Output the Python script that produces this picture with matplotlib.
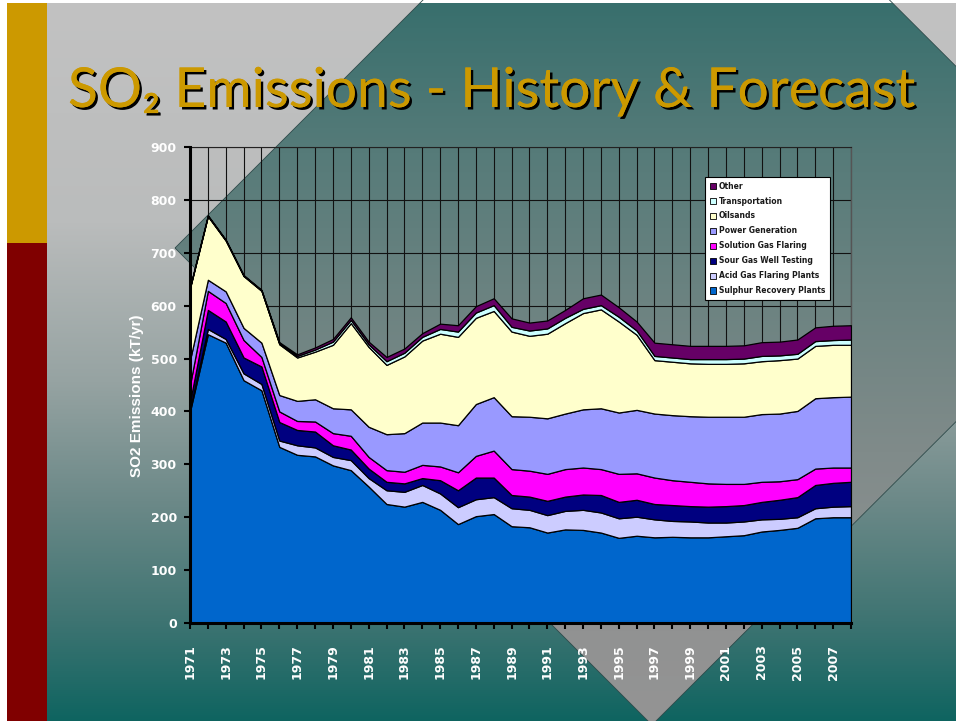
import numpy as np
import matplotlib
matplotlib.use("Agg")
import matplotlib.pyplot as plt
from matplotlib.patches import Polygon, Rectangle, Patch
from matplotlib import patheffects as pe
from matplotlib import font_manager as fm

# ---------------------------------------------------------------- data (kT/yr)
years = list(range(1971, 2009))

sulphur_recovery = [400, 546, 530, 459, 440, 333, 318, 315, 298, 289,
                    258, 225, 220, 229, 214, 187, 202, 206, 183, 181,
                    171, 177, 176, 171, 161, 165, 162, 163, 162, 162,
                    164, 166, 173, 176, 180, 198, 200, 200]
acid_gas_flaring = [5, 10, 7, 13, 12, 12, 18, 17, 16, 19,
                    16, 26, 28, 32, 31, 32, 32, 32, 34, 33,
                    33, 35, 38, 38, 37, 36, 34, 30, 30, 28,
                    26, 26, 23, 21, 20, 19, 20, 21]
sour_gas_testing = [13, 36, 33, 30, 33, 35, 29, 30, 22, 20,
                    18, 16, 16, 13, 25, 32, 41, 37, 25, 25,
                    27, 27, 29, 33, 31, 32, 29, 30, 29, 30,
                    31, 31, 33, 36, 38, 44, 45, 46]
solution_gas_flaring = [32, 36, 35, 33, 18, 20, 17, 19, 23, 26,
                        22, 22, 22, 25, 26, 34, 41, 51, 49, 49,
                        51, 52, 51, 49, 53, 50, 50, 47, 46, 44,
                        42, 40, 38, 35, 34, 31, 29, 27]
power_generation = [47, 21, 22, 23, 27, 31, 38, 42, 47, 50,
                    57, 68, 73, 80, 83, 89, 98, 101, 100, 102,
                    105, 105, 110, 115, 116, 120, 121, 123, 124, 126,
                    127, 127, 128, 128, 129, 133, 133, 134]
oilsands = [136, 120, 96, 98, 98, 96, 82, 90, 120, 163,
            151, 131, 145, 155, 168, 167, 163, 163, 160, 153,
            160, 171, 182, 187, 172, 142, 101, 101, 100, 100,
            100, 101, 100, 101, 99, 99, 99, 98]
transportation = [1, 1, 1, 1, 1, 2, 3, 4, 6, 6,
                  5, 7, 7, 7, 9, 10, 10, 11, 9, 10,
                  10, 10, 8, 8, 9, 8, 8, 8, 8, 9,
                  9, 9, 10, 9, 9, 9, 9, 10]
other = [1, 1, 1, 1, 1, 2, 3, 4, 5, 5,
         5, 8, 8, 7, 10, 12, 12, 13, 16, 15,
         15, 15, 20, 20, 18, 17, 25, 25, 25, 25,
         25, 25, 26, 26, 27, 26, 27, 27]

series_names = ["Sulphur Recovery Plants", "Acid Gas Flaring Plants",
                "Sour Gas Well Testing", "Solution Gas Flaring",
                "Power Generation", "Oilsands", "Transportation", "Other"]
series_colors = ["#0066CC", "#CCCCFF", "#000080", "#FF00FF",
                 "#9999FF", "#FFFFCC", "#CCFFFF", "#660066"]

y_ticks = [0, 100, 200, 300, 400, 500, 600, 700, 800, 900]
x_tick_labels = [str(y) if (y - 1971) % 2 == 0 else "" for y in years]

title_text = "SO\u2082 Emissions - History & Forecast"
y_label = "SO2 Emissions (kT/yr)"

# ---------------------------------------------------------------- figure
W, H = 956, 721
fig = plt.figure(figsize=(W / 100, H / 100), dpi=100, facecolor="white")

# slide background (pixel coordinates)
bg = fig.add_axes([0, 0, 1, 1], zorder=-10)
bg.axis("off")


def vertical_gradient(stops_y, stops_rgb, n=H):
    yy = np.arange(n)
    cols = np.array(stops_rgb, dtype=float) / 255.0
    arr = np.stack([np.interp(yy, stops_y, cols[:, k]) for k in range(3)], axis=-1)
    return arr[:, None, :]


base = vertical_gradient([0, 220, 380, 500, 620, 721],
                         [(194, 194, 194), (186, 188, 188), (150, 163, 162),
                          (108, 137, 136), (62, 116, 114), (14, 100, 96)])
bg.imshow(base, extent=(47, W, H, 3), aspect="auto", interpolation="bilinear")

diamond_pts = [(175, 248), (656, -233), (1134, 244), (652, 725)]
diamond = Polygon(diamond_pts, closed=True, facecolor="none",
                  edgecolor="#2e4a4a", linewidth=0.6)
bg.add_patch(diamond)
inner = vertical_gradient([0, 150, 300, 450, 630, 721],
                          [(56, 111, 109), (86, 123, 121), (108, 131, 129),
                           (128, 139, 138), (145, 146, 146), (148, 148, 148)])
im = bg.imshow(inner, extent=(47, W, H, 3), aspect="auto", interpolation="bilinear")
im.set_clip_path(diamond)

bg.add_patch(Rectangle((7, 3), 40, 240, facecolor="#CC9900", edgecolor="none"))
bg.add_patch(Rectangle((7, 243), 40, H - 243, facecolor="#800000", edgecolor="none"))
bg.set_xlim(0, W)
bg.set_ylim(H, 0)

# ---------------------------------------------------------------- title
title = fig.text(68 / W, 1 - 107 / H, title_text, family=["Lato", "DejaVu Sans"],
                 fontsize=40, color="#CC9900", ha="left", va="baseline",
                 path_effects=[pe.withSimplePatchShadow(offset=(1.8, -1.8),
                                                        shadow_rgbFace="black",
                                                        alpha=1.0),
                               pe.Normal()])
fig.canvas.draw()
bb = title.get_window_extent()
title.set_fontsize(40 * 847 / bb.width)

# ---------------------------------------------------------------- chart
ax = fig.add_axes([190 / W, 1 - 623 / H, 661 / W, 476 / H])
ax.set_facecolor("none")
ax.stackplot(years, sulphur_recovery, acid_gas_flaring, sour_gas_testing,
             solution_gas_flaring, power_generation, oilsands, transportation,
             other, colors=series_colors, labels=series_names,
             edgecolor="black", linewidth=0.9, zorder=3)

ax.set_xlim(years[0], years[-1])
ax.set_ylim(0, 900)
ax.set_axisbelow(True)
ax.grid(True, color="#111111", linewidth=0.8)

tick_font = fm.FontProperties(family="DejaVu Sans", weight="bold", size=9)
ax.set_yticks(y_ticks)
ax.set_yticklabels([str(v) for v in y_ticks], fontproperties=tick_font)
ax.set_xticks(years)
ax.set_xticklabels(x_tick_labels, fontproperties=tick_font, rotation=90)
ax.tick_params(axis="both", direction="out", length=4.5, width=1.5,
               color="black", labelcolor="white")
ax.tick_params(axis="x", pad=11)
ax.tick_params(axis="y", pad=5)

for side in ("left", "bottom"):
    ax.spines[side].set_linewidth(2.2)
    ax.spines[side].set_color("black")
    ax.spines[side].set_zorder(5)
ax.spines["top"].set_color("#222222")
ax.spines["top"].set_linewidth(0.8)
ax.spines["right"].set_color("#555555")
ax.spines["right"].set_linewidth(1.0)

ax.set_ylabel(y_label, color="white", fontfamily="Liberation Sans",
              fontweight="bold", fontsize=11, va="center")
ax.yaxis.set_label_coords(-0.08, 0.477)

# legend (top series first)
handles = [Patch(facecolor=c, edgecolor="black", linewidth=0.6)
           for c in series_colors[::-1]]
leg = ax.legend(handles, series_names[::-1], loc="upper left",
                bbox_to_anchor=(705 / W, 1 - 177 / H),
                bbox_transform=fig.transFigure, frameon=True, fancybox=False,
                edgecolor="black", facecolor="white", framealpha=1,
                prop=fm.FontProperties(family="DejaVu Sans", weight="bold", size=5.5),
                handlelength=0.9, handleheight=0.9, handletextpad=0.3,
                labelspacing=0.78, borderpad=0.6, borderaxespad=0)
leg.get_frame().set_linewidth(0.8)
leg.set_zorder(10)
for t in leg.get_texts():
    t.set_color("#1a1a1a")

fig.savefig("out.png", dpi=100, facecolor="white")
